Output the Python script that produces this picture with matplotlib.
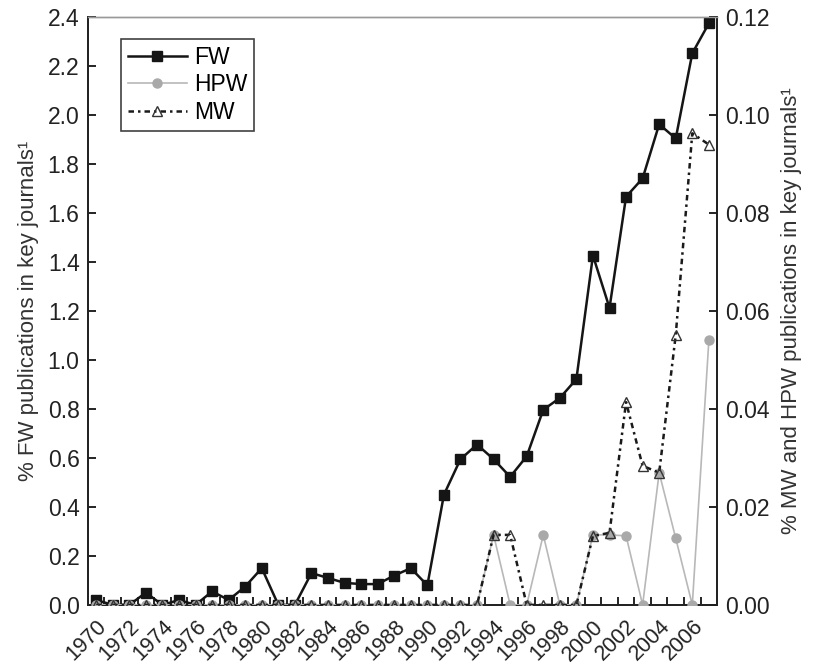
import numpy as np
import matplotlib
matplotlib.use('Agg')
import matplotlib.pyplot as plt

# Data
years = list(range(1970, 2008))
fw = [0.02, 0.0, 0.0, 0.05, 0.0, 0.02, 0.0, 0.055, 0.02, 0.075,
      0.15, 0.0, 0.0, 0.13, 0.11, 0.09, 0.085, 0.085, 0.12, 0.15,
      0.08, 0.45, 0.595, 0.655, 0.595, 0.523, 0.607, 0.797, 0.845, 0.922,
      1.427, 1.213, 1.667, 1.742, 1.963, 1.905, 2.253, 2.375]
hpw = [0.0] * 24 + [0.0143, 0.0, 0.0, 0.0143, 0.0, 0.0,
                    0.0143, 0.0143, 0.0141, 0.0, 0.0270, 0.0136, 0.0, 0.0540]
mw = [0.0] * 24 + [0.0143, 0.0143, 0.0, 0.0, 0.0, 0.0,
                   0.0141, 0.0147, 0.0414, 0.0284, 0.0270, 0.0551, 0.0963, 0.0940]
label_years = [str(y) for y in range(1970, 2007, 2)]

plt.rcParams['font.family'] = ['Liberation Sans', 'DejaVu Sans']

fig = plt.figure(figsize=(8.14, 6.64), dpi=100)
ax = fig.add_axes([0.108, 0.089, 0.773, 0.885])
ax2 = ax.twinx()

x = np.arange(len(years))

l_fw, = ax.plot(x, fw, color='#151515', lw=1.8, marker='s', ms=7.5,
                mfc='#151515', mec='#151515', label='FW', zorder=3)
l_hpw, = ax2.plot(x, hpw, color='#b8b8b8', lw=1.2, marker='o', ms=6.5,
                  mfc='#a9a9a9', mec='#a9a9a9', label='HPW', zorder=3)
l_mw, = ax2.plot(x, mw, color='#1a1a1a', lw=1.8, ls=(0, (2.2, 1.6, 1.0, 1.6)),
                 marker='^', ms=6.5, mfc='none', mec='#333333', mew=1.0,
                 label='MW', zorder=4)

ax.set_xlim(-0.5, len(years) - 0.5)
ax.set_ylim(0, 2.4)
ax2.set_ylim(0, 0.12)

ax.set_yticks(np.arange(0, 2.41, 0.2))
ax.set_yticklabels([f'{v:.1f}' for v in np.arange(0, 2.41, 0.2)])
ax2.set_yticks(np.arange(0, 0.121, 0.02))
ax2.set_yticklabels([f'{v:.2f}' for v in np.arange(0, 0.121, 0.02)])

# ticks between categories, labels on even years
ax.set_xticks(np.arange(0.5, len(years) - 1, 1.0))
ax.set_xticklabels([])
ax.set_xticks(np.arange(0, len(years), 2), minor=True)
ax.set_xticklabels(label_years, minor=True, rotation=45, ha='right',
                   va='top', rotation_mode='anchor', fontsize=15.5,
                   color='#222222')
ax.tick_params(axis='x', which='major', direction='in', length=6, width=1.2)
ax.tick_params(axis='x', which='minor', length=0, pad=8)
ax.tick_params(axis='y', direction='in', length=6, width=1.2, labelsize=16.5,
               pad=6, labelcolor='#222222')
ax2.tick_params(axis='y', direction='in', length=6, width=1.2, labelsize=16.5,
                pad=6, labelcolor='#222222')

for a in (ax, ax2):
    a.spines['top'].set_color('#999999')
    a.spines['top'].set_linewidth(1.0)
    for s in ('left', 'right', 'bottom'):
        a.spines[s].set_linewidth(1.3)
        a.spines[s].set_color('#222222')

ax.set_ylabel('% FW publications in key journals¹', fontsize=16,
              color='#333333', labelpad=6)
ax2.set_ylabel('% MW and HPW publications in key journals¹', fontsize=16,
               color='#333333', labelpad=8)

leg = ax2.legend(handles=[l_fw, l_hpw, l_mw], loc='upper left',
                 bbox_to_anchor=(0.052, 0.963), fontsize=16.5, frameon=True,
                 fancybox=False, edgecolor='#111111', handlelength=2.6,
                 handletextpad=0.3, borderpad=0.3, labelspacing=0.2,
                 borderaxespad=0)
leg.get_frame().set_linewidth(1.2)

fig.savefig('out.png', dpi=100)
